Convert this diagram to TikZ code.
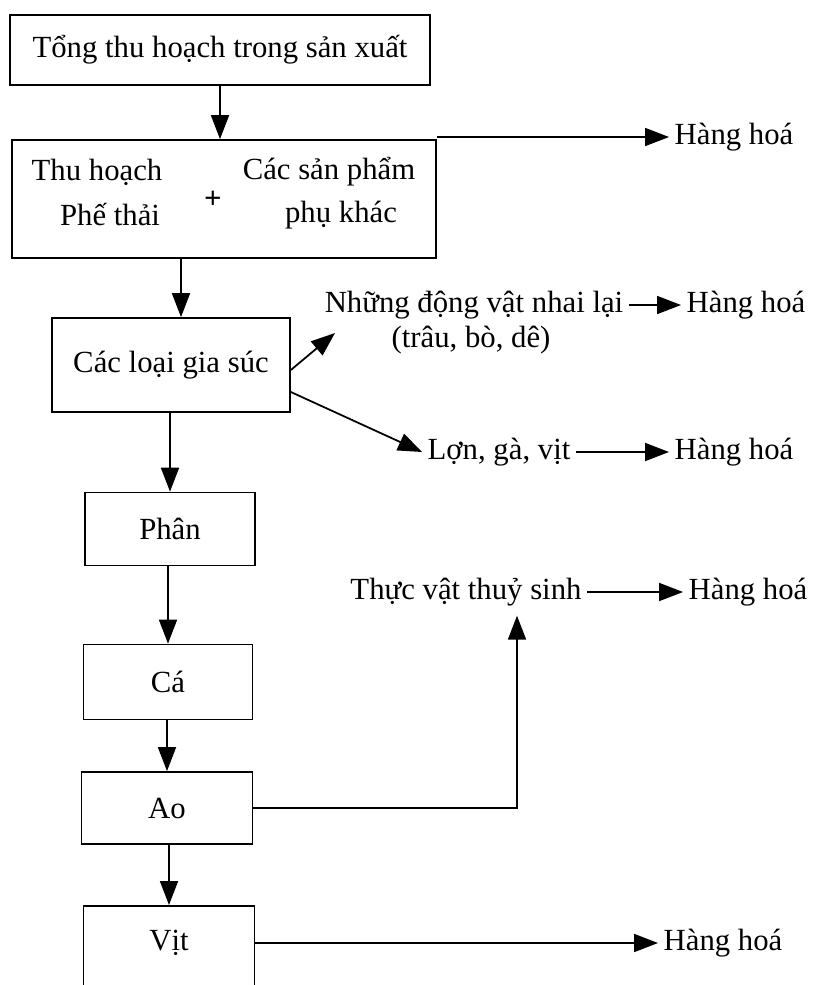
\documentclass[tikz,border=0pt]{standalone}
\usepackage{fontspec}
\setmainfont{Liberation Serif}
\usetikzlibrary{arrows.meta,calc}
\tikzset{
  hop/.style={draw, line width=1pt, inner sep=0pt},
  chu/.style={inner sep=3pt},
  mui/.style={line width=1pt, -{Triangle[length=0.48cm,width=0.36cm]}},
}
\begin{document}
\begin{tikzpicture}[x=0.02cm, y=-0.02cm, font=\fontsize{17.5}{21}\selectfont]
  \useasboundingbox (0,0) rectangle (814,985);
  % Cac hop chinh
  \node[hop, minimum width=8.4cm, minimum height=1.4cm] (tong) at (220,50) {Tổng thu hoạch trong sản xuất};
  \node[hop, minimum width=8.48cm, minimum height=2.36cm] (thu) at (224,199) {};
  \node[hop, minimum width=4.76cm, minimum height=1.88cm] (giasuc) at (171,365) {Các loại gia súc};
  \node[hop, minimum width=3.4cm, minimum height=1.46cm] (phan) at (170,529) {Phân};
  \node[hop, minimum width=3.38cm, minimum height=1.5cm] (ca) at (168,682) {Cá};
  \node[hop, minimum width=3.42cm, minimum height=1.44cm] (ao) at (167,808) {Ao};
  \node[hop, minimum width=3.42cm, minimum height=2.4cm, anchor=north] (vit) at (169,905) {};
  \node[chu] (vittxt) at (169,943) {Vịt};

  % Noi dung hop thu hoach
  \node[chu] (thuhoach) at (97,172) {Thu hoạch};
  \node[chu] (phethai) at (110,215) {Phế thải};
  \node[chu] (cong) at (213,200) {\textbf{+}};
  \node[chu] (cacsp) at (329,172) {Các sản phẩm};
  \node[chu] (phukhac) at (341,215) {phụ khác};

  % Nhanh ben phai
  \node[chu] (nhai) at (474,305) {Những động vật nhai lại};
  \node[chu] (trau) at (471,340) {(trâu, bò, dê)};
  \node[chu] (lon) at (499,452) {Lợn, gà, vịt};
  \node[chu] (tvts) at (466,592) {Thực vật thuỷ sinh};
  \node[chu] (hh1) at (734,137) {Hàng hoá};
  \node[chu] (hh2) at (746,305) {Hàng hoá};
  \node[chu] (hh3) at (734,452) {Hàng hoá};
  \node[chu] (hh4) at (748,592) {Hàng hoá};
  \node[chu] (hh5) at (723,943) {Hàng hoá};
  \coordinate (tongra) at (437,137);
  \coordinate (nhaivao) at (335,333);

  % Mui ten doc
  \draw[mui] (tong.south) -- (tong.south |- thu.north);
  \draw[mui] ($(giasuc.north |- thu.south)+(10,0)$) -- ($(giasuc.north)+(10,0)$);
  \draw[mui] (phan.north |- giasuc.south) -- (phan.north);
  \draw[mui] (ca.north |- phan.south) -- (ca.north);
  \draw[mui] (ao.north |- ca.south) -- (ao.north);
  \draw[mui] (vit.north |- ao.south) -- (vit.north);

  % Mui ten ngang
  \draw[mui] (tongra) -- (hh1.west);
  \draw[mui] ($(giasuc.east)+(0,5)$) -- (nhaivao);
  \draw[mui] ($(giasuc.east)+(0,27)$) -- (lon.west);
  \draw[mui] (nhai.east) -- (hh2.west);
  \draw[mui] (lon.east) -- (hh3.west);
  \draw[mui] (tvts.east) -- (hh4.west);
  \draw[mui] (ao.east) -| ($(tvts.south)+(51,4)$);
  \draw[mui] ($(vit.north east)+(0,38)$) -- (hh5.west);
\end{tikzpicture}
\end{document}
